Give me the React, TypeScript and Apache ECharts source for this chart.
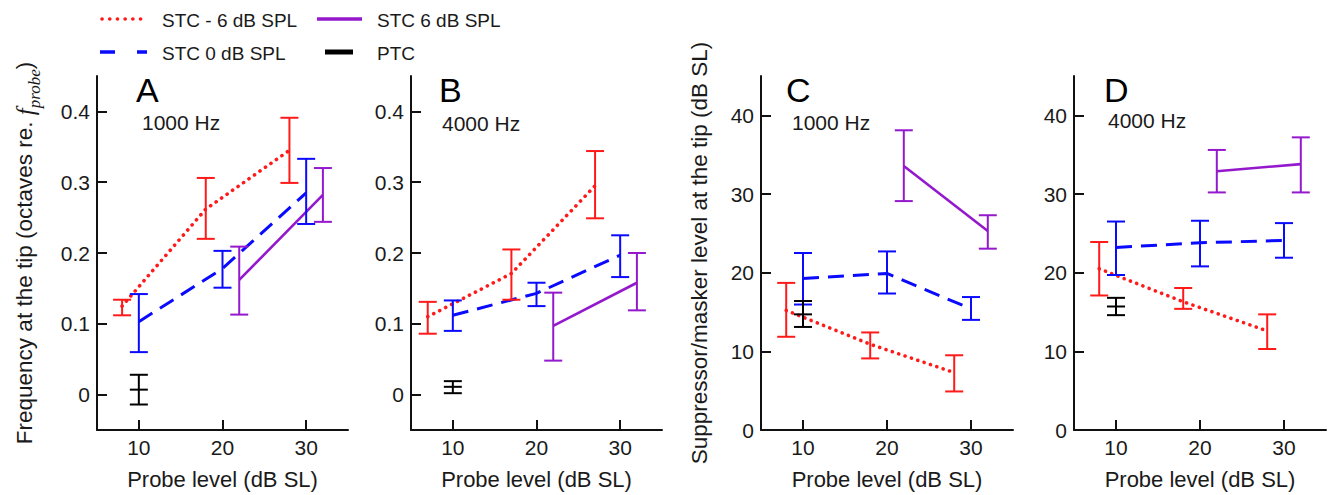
import React, { useEffect, useRef } from 'react';
import * as echarts from 'echarts';

// ---------- tick values ----------
const xTickValues = [10, 20, 30];
const freqTicks = [0, 0.1, 0.2, 0.3, 0.4];
const levelTicks = [0, 10, 20, 30, 40];

// ---------- Panel A (1000 Hz, frequency at tip) ----------
const aRedX = [8, 18, 28];
const aRedMean = [0.125, 0.262, 0.345];
const aRedLo = [0.112, 0.22, 0.299];
const aRedHi = [0.134, 0.306, 0.391];
const aBlueX = [10, 20, 30];
const aBlueMean = [0.103, 0.178, 0.285];
const aBlueLo = [0.06, 0.151, 0.241];
const aBlueHi = [0.142, 0.203, 0.333];
const aPurpleX = [22, 32];
const aPurpleMean = [0.162, 0.282];
const aPurpleLo = [0.113, 0.244];
const aPurpleHi = [0.209, 0.32];
const aPtcX = [10];
const aPtcMean = [0.007];
const aPtcLo = [-0.014];
const aPtcHi = [0.028];

// ---------- Panel B (4000 Hz, frequency at tip) ----------
const bRedX = [7, 17, 27];
const bRedMean = [0.11, 0.171, 0.295];
const bRedLo = [0.086, 0.134, 0.249];
const bRedHi = [0.131, 0.205, 0.344];
const bBlueX = [10, 20, 30];
const bBlueMean = [0.112, 0.143, 0.197];
const bBlueLo = [0.09, 0.125, 0.166];
const bBlueHi = [0.133, 0.158, 0.225];
const bPurpleX = [22, 32];
const bPurpleMean = [0.097, 0.158];
const bPurpleLo = [0.048, 0.119];
const bPurpleHi = [0.144, 0.2];
const bPtcX = [10];
const bPtcMean = [0.011];
const bPtcLo = [0.002];
const bPtcHi = [0.019];

// ---------- Panel C (1000 Hz, level at tip) ----------
const cRedX = [8, 18, 28];
const cRedMean = [15.2, 10.9, 7.3];
const cRedLo = [11.85, 9.1, 4.9];
const cRedHi = [18.7, 12.4, 9.5];
const cBlueX = [10, 20, 30];
const cBlueMean = [19.25, 19.9, 15.4];
const cBlueLo = [15.95, 17.35, 14.0];
const cBlueHi = [22.5, 22.7, 16.9];
const cPurpleX = [22, 32];
const cPurpleMean = [33.55, 25.3];
const cPurpleLo = [29.1, 23.05];
const cPurpleHi = [38.1, 27.3];
const cPtcX = [10];
const cPtcMean = [14.7];
const cPtcLo = [13.1];
const cPtcHi = [16.4];

// ---------- Panel D (4000 Hz, level at tip) ----------
const dRedX = [8, 18, 28];
const dRedMean = [20.5, 16.3, 12.6];
const dRedLo = [17.1, 15.4, 10.3];
const dRedHi = [23.9, 18.05, 14.7];
const dBlueX = [10, 20, 30];
const dBlueMean = [23.2, 23.8, 24.1];
const dBlueLo = [19.7, 20.8, 21.9];
const dBlueHi = [26.5, 26.6, 26.3];
const dPurpleX = [22, 32];
const dPurpleMean = [32.9, 33.8];
const dPurpleLo = [30.2, 30.2];
const dPurpleHi = [35.6, 37.2];
const dPtcX = [10];
const dPtcMean = [15.7];
const dPtcLo = [14.6];
const dPtcHi = [16.8];

const panelLetters = ['A', 'B', 'C', 'D'];
const panelFreqs = ['1000 Hz', '4000 Hz', '1000 Hz', '4000 Hz'];
const legendNames = ['STC - 6 dB SPL', 'STC 6 dB SPL', 'STC 0 dB SPL', 'PTC'];
const xAxisTitle = 'Probe level (dB SL)';
const yTitleC = 'Suppressor/masker level at the tip (dB SL)';

const RED = '#ff1a1a';
const BLUE = '#0a0aff';
const PURPLE = '#9418cc';
const BLACK = '#000000';
const TXT = '#1a1a1a';
const FONT = '"Liberation Sans", Arial, Helvetica, sans-serif';
const SERIF = '"Liberation Serif", "Times New Roman", serif';

type Grp = { x: number[]; mean: number[]; lo: number[]; hi: number[] };
const panels: { red: Grp; blue: Grp; purple: Grp; ptc: Grp }[] = [
  {
    red: { x: aRedX, mean: aRedMean, lo: aRedLo, hi: aRedHi },
    blue: { x: aBlueX, mean: aBlueMean, lo: aBlueLo, hi: aBlueHi },
    purple: { x: aPurpleX, mean: aPurpleMean, lo: aPurpleLo, hi: aPurpleHi },
    ptc: { x: aPtcX, mean: aPtcMean, lo: aPtcLo, hi: aPtcHi },
  },
  {
    red: { x: bRedX, mean: bRedMean, lo: bRedLo, hi: bRedHi },
    blue: { x: bBlueX, mean: bBlueMean, lo: bBlueLo, hi: bBlueHi },
    purple: { x: bPurpleX, mean: bPurpleMean, lo: bPurpleLo, hi: bPurpleHi },
    ptc: { x: bPtcX, mean: bPtcMean, lo: bPtcLo, hi: bPtcHi },
  },
  {
    red: { x: cRedX, mean: cRedMean, lo: cRedLo, hi: cRedHi },
    blue: { x: cBlueX, mean: cBlueMean, lo: cBlueLo, hi: cBlueHi },
    purple: { x: cPurpleX, mean: cPurpleMean, lo: cPurpleLo, hi: cPurpleHi },
    ptc: { x: cPtcX, mean: cPtcMean, lo: cPtcLo, hi: cPtcHi },
  },
  {
    red: { x: dRedX, mean: dRedMean, lo: dRedLo, hi: dRedHi },
    blue: { x: dBlueX, mean: dBlueMean, lo: dBlueLo, hi: dBlueHi },
    purple: { x: dPurpleX, mean: dPurpleMean, lo: dPurpleLo, hi: dPurpleHi },
    ptc: { x: dPtcX, mean: dPtcMean, lo: dPtcLo, hi: dPtcHi },
  },
];

const gridBoxes = [
  { left: 97, top: 76, width: 251, height: 355 },
  { left: 411, top: 76, width: 251, height: 355 },
  { left: 761, top: 76, width: 252, height: 355 },
  { left: 1074, top: 76, width: 252, height: 355 },
];

function errorBarRender(color: string, capWidth: number, showMean: boolean) {
  return (_params: any, api: any) => {
    const x = api.value(0);
    const lo = api.coord([x, api.value(1)]);
    const hi = api.coord([x, api.value(2)]);
    const hw = capWidth / 2;
    const style = { stroke: color, lineWidth: 2 };
    const children: any[] = [
      { type: 'line', shape: { x1: lo[0], y1: lo[1], x2: hi[0], y2: hi[1] }, style },
      { type: 'line', shape: { x1: hi[0] - hw, y1: hi[1], x2: hi[0] + hw, y2: hi[1] }, style },
      { type: 'line', shape: { x1: lo[0] - hw, y1: lo[1], x2: lo[0] + hw, y2: lo[1] }, style },
    ];
    if (showMean) {
      const m = api.coord([x, api.value(3)]);
      children.push({ type: 'line', shape: { x1: m[0] - hw, y1: m[1], x2: m[0] + hw, y2: m[1] }, style });
    }
    return { type: 'group', children };
  };
}

function pairs(g: Grp) {
  return g.x.map((x, i) => [x, g.mean[i]]);
}
function bars(g: Grp) {
  return g.x.map((x, i) => [x, g.lo[i], g.hi[i], g.mean[i]]);
}

function buildOption() {
  const series: any[] = [];
  panels.forEach((p, i) => {
    const base = { xAxisIndex: i, yAxisIndex: i };
    series.push({
      ...base,
      type: 'line',
      name: legendNames[0],
      data: pairs(p.red),
      showSymbol: false,
      lineStyle: { color: RED, width: 3.6, type: [0.1, 6.6], cap: 'round' },
      z: 3,
    });
    series.push({
      ...base,
      type: 'line',
      name: legendNames[2],
      data: pairs(p.blue),
      showSymbol: false,
      lineStyle: { color: BLUE, width: 3, type: [16, 9] },
      z: 3,
    });
    series.push({
      ...base,
      type: 'line',
      name: legendNames[1],
      data: pairs(p.purple),
      showSymbol: false,
      lineStyle: { color: PURPLE, width: 2.6 },
      z: 3,
    });
    const errs: [Grp, string, boolean][] = [
      [p.red, RED, false],
      [p.blue, BLUE, false],
      [p.purple, PURPLE, false],
      [p.ptc, BLACK, true],
    ];
    errs.forEach(([g, color, mean]) => {
      series.push({
        ...base,
        type: 'custom',
        data: bars(g),
        encode: { x: 0, y: [1, 2] },
        renderItem: errorBarRender(color, 18, mean),
        z: 4,
      });
    });
  });

  const xAxis = gridBoxes.map((_, i) => ({
    type: 'value',
    gridIndex: i,
    min: 5,
    max: 35,
    axisLine: { onZero: false, lineStyle: { color: '#111', width: 2 } },
    axisTick: { inside: true, length: 10, lineStyle: { color: '#111', width: 2 }, customValues: xTickValues },
    axisLabel: { customValues: xTickValues, fontSize: 21, color: TXT, margin: 7, fontFamily: FONT },
    splitLine: { show: false },
    name: xAxisTitle,
    nameLocation: 'middle',
    nameGap: 38,
    nameTextStyle: { fontSize: 22, color: TXT, fontFamily: FONT },
  }));

  const yAxis = gridBoxes.map((_, i) => {
    const isFreq = i < 2;
    const ticks = isFreq ? freqTicks : levelTicks;
    const ax: any = {
      type: 'value',
      gridIndex: i,
      min: isFreq ? -0.05 : 0,
      max: isFreq ? 0.45 : 45,
      axisLine: { onZero: false, lineStyle: { color: '#111', width: 2 } },
      axisTick: { inside: true, length: 10, lineStyle: { color: '#111', width: 2 }, customValues: ticks },
      axisLabel: { customValues: ticks, fontSize: 21, color: TXT, margin: 7, fontFamily: FONT },
      splitLine: { show: false },
    };
    if (i === 0) {
      ax.name = '{a|Frequency at the tip (octaves re.}{sp| }{f|f}{s|probe}{a|)}';
      ax.nameLocation = 'middle';
      ax.nameRotate = 90;
      ax.nameGap = 54;
      ax.nameTextStyle = {
        rich: {
          a: { fontSize: 22.5, fontFamily: FONT, color: TXT, lineHeight: 22, verticalAlign: 'top' },
          sp: { fontSize: 22.5, fontFamily: FONT, color: TXT, lineHeight: 30, verticalAlign: 'top' },
          f: { fontSize: 25, fontFamily: SERIF, fontStyle: 'italic', color: TXT, lineHeight: 22, verticalAlign: 'top' },
          s: { fontSize: 17, fontFamily: SERIF, fontStyle: 'italic', color: TXT, lineHeight: 16, verticalAlign: 'bottom' },
        },
      };
    }
    if (i === 2) {
      ax.name = yTitleC;
      ax.nameLocation = 'middle';
      ax.nameRotate = 90;
      ax.nameGap = 50;
      ax.nameTextStyle = { fontSize: 22.5, color: TXT, fontFamily: FONT };
    }
    return ax;
  });

  const letterPos = [
    [136, 90],
    [439, 90],
    [786, 90],
    [1104, 90],
  ];
  const freqPos = [
    [142, 122],
    [442, 123],
    [792, 122],
    [1108, 120],
  ];
  const graphic: any[] = [];
  panelLetters.forEach((l, i) => {
    graphic.push({
      type: 'text',
      x: letterPos[i][0],
      y: letterPos[i][1],
      style: { text: l, fontSize: 34, fontFamily: FONT, fill: '#000', textVerticalAlign: 'middle' },
    });
    graphic.push({
      type: 'text',
      x: freqPos[i][0],
      y: freqPos[i][1],
      style: { text: panelFreqs[i], fontSize: 21, fontFamily: FONT, fill: TXT, textVerticalAlign: 'middle' },
    });
  });
  // legend
  graphic.push({
    type: 'line',
    shape: { x1: 102, y1: 19, x2: 143, y2: 19 },
    style: { stroke: RED, lineWidth: 3.6, lineDash: [0.1, 7.6], lineCap: 'round' },
  });
  graphic.push({
    type: 'line',
    shape: { x1: 317, y1: 19, x2: 362, y2: 19 },
    style: { stroke: PURPLE, lineWidth: 3.5 },
  });
  graphic.push({
    type: 'line',
    shape: { x1: 100, y1: 52, x2: 147, y2: 52 },
    style: { stroke: BLUE, lineWidth: 3.5, lineDash: [15, 22] },
  });
  graphic.push({
    type: 'line',
    shape: { x1: 325, y1: 52, x2: 353, y2: 52 },
    style: { stroke: BLACK, lineWidth: 5 },
  });
  const legPos = [
    [162, 20],
    [377, 20],
    [162, 53],
    [377, 53],
  ];
  legendNames.forEach((n, i) => {
    graphic.push({
      type: 'text',
      x: legPos[i][0],
      y: legPos[i][1],
      style: { text: n, fontSize: 19, fontFamily: FONT, fill: TXT, textVerticalAlign: 'middle' },
    });
  });

  return {
    animation: false,
    backgroundColor: '#ffffff',
    grid: gridBoxes.map((g) => ({ ...g, containLabel: false })),
    xAxis,
    yAxis,
    series,
    graphic,
  };
}

export default function App() {
  const ref = useRef<HTMLDivElement>(null);
  useEffect(() => {
    if (!ref.current) return;
    const chart = echarts.init(ref.current, undefined, { renderer: 'svg' });
    chart.setOption(buildOption() as any);
    return () => chart.dispose();
  }, []);
  return (
    <div
      ref={ref}
      style={{ position: 'fixed', left: 0, top: 0, width: 1335, height: 495, background: '#fff' }}
    />
  );
}
